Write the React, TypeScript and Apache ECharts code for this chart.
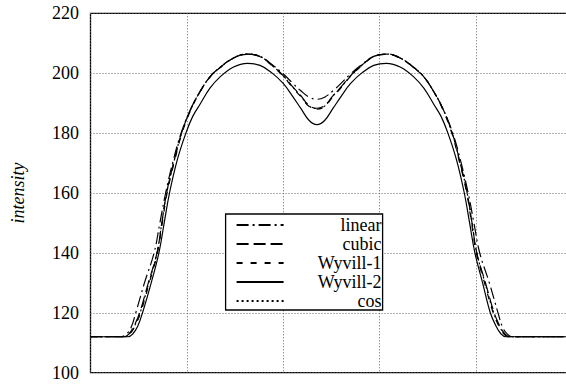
import React, { useEffect, useRef } from "react";
import * as echarts from "echarts";

const seriesNames = ["linear", "cubic", "Wyvill-1", "Wyvill-2", "cos"];

const linearData: [number, number][] = [
  [0, 112], [0.32, 112], [0.37, 112.8], [0.42, 115], [0.47, 120], [0.56, 130], [0.66, 140],
  [0.72, 150], [0.78, 160], [0.86, 171], [0.94, 180], [1.04, 188], [1.14, 194], [1.24, 198.8],
  [1.34, 201.8], [1.48, 205], [1.62, 206.4], [1.76, 205.6], [1.88, 203], [2.0, 199.8],
  [2.1, 196.6], [2.18, 194.2], [2.27, 192], [2.35, 191.3], [2.43, 192], [2.52, 194.2],
  [2.6, 196.6], [2.7, 199.8], [2.82, 203], [2.94, 205.6], [3.08, 206.4], [3.22, 205],
  [3.36, 201.8], [3.46, 198.8], [3.56, 194], [3.66, 188], [3.76, 180], [3.84, 171],
  [3.92, 160], [3.98, 150], [4.04, 140], [4.14, 130], [4.23, 120], [4.28, 115],
  [4.33, 112.8], [4.38, 112], [5, 112],
];

const cubicData: [number, number][] = [
  [0, 112], [0.35, 112], [0.4, 113], [0.45, 115.5], [0.51, 120], [0.6, 130], [0.69, 140],
  [0.74, 150], [0.79, 160], [0.87, 171], [0.945, 180], [1.04, 188], [1.14, 194], [1.24, 198.8],
  [1.34, 201.8], [1.48, 205], [1.62, 206.4], [1.76, 205.6], [1.88, 202.8], [2.0, 199.2],
  [2.1, 195.4], [2.18, 192.6], [2.27, 189.2], [2.35, 188.3], [2.43, 189.2], [2.52, 192.6],
  [2.6, 195.4], [2.7, 199.2], [2.82, 202.8], [2.94, 205.6], [3.08, 206.4], [3.22, 205],
  [3.36, 201.8], [3.46, 198.8], [3.56, 194], [3.66, 188], [3.755, 180], [3.83, 171],
  [3.91, 160], [3.96, 150], [4.01, 140], [4.1, 130], [4.19, 120], [4.25, 115.5],
  [4.3, 113], [4.35, 112], [5, 112],
];

const wyvill1Data: [number, number][] = [
  [0, 112], [0.36, 112], [0.41, 113], [0.46, 115.5], [0.52, 120], [0.61, 130], [0.695, 140],
  [0.745, 150], [0.795, 160], [0.875, 171], [0.95, 180], [1.045, 188], [1.14, 194], [1.24, 198.7],
  [1.34, 201.7], [1.48, 204.9], [1.62, 206.3], [1.76, 205.5], [1.88, 202.6], [2.0, 199],
  [2.1, 195.1], [2.18, 192.3], [2.27, 188.9], [2.35, 188], [2.43, 188.9], [2.52, 192.3],
  [2.6, 195.1], [2.7, 199], [2.82, 202.6], [2.94, 205.5], [3.08, 206.3], [3.22, 204.9],
  [3.36, 201.7], [3.46, 198.7], [3.56, 194], [3.655, 188], [3.75, 180], [3.825, 171],
  [3.905, 160], [3.955, 150], [4.005, 140], [4.09, 130], [4.18, 120], [4.24, 115.5],
  [4.29, 113], [4.34, 112], [5, 112],
];

const wyvill2Data: [number, number][] = [
  [0, 112], [0.39, 112], [0.44, 113], [0.49, 115.5], [0.54, 120], [0.63, 130], [0.71, 140],
  [0.765, 150], [0.82, 160], [0.9, 171], [0.99, 180], [1.06, 185.5], [1.14, 189.8], [1.24, 195],
  [1.34, 198.6], [1.48, 202], [1.63, 203.3], [1.76, 202.6], [1.88, 200.2], [2.0, 196.6],
  [2.1, 192.2], [2.18, 188.4], [2.27, 184.2], [2.35, 182.8], [2.43, 184.2], [2.52, 188.4],
  [2.6, 192.2], [2.7, 196.6], [2.82, 200.2], [2.94, 202.6], [3.07, 203.3], [3.22, 202],
  [3.36, 198.6], [3.46, 195], [3.56, 189.8], [3.64, 185.5], [3.71, 180], [3.8, 171],
  [3.88, 160], [3.935, 150], [3.99, 140], [4.07, 130], [4.15, 120], [4.21, 115.5],
  [4.26, 113], [4.31, 112], [5, 112],
];

const cosData: [number, number][] = [
  [0, 112], [0.355, 112], [0.405, 113], [0.455, 115.5], [0.515, 120], [0.605, 130], [0.69, 140],
  [0.74, 150], [0.79, 160], [0.87, 171], [0.945, 180], [1.04, 188], [1.14, 194], [1.24, 198.8],
  [1.34, 201.8], [1.48, 205], [1.62, 206.4], [1.76, 205.6], [1.88, 202.7], [2.0, 199.1],
  [2.1, 195.3], [2.18, 192.5], [2.27, 189], [2.35, 188.2], [2.43, 189], [2.52, 192.5],
  [2.6, 195.3], [2.7, 199.1], [2.82, 202.7], [2.94, 205.6], [3.08, 206.4], [3.22, 205],
  [3.36, 201.8], [3.46, 198.8], [3.56, 194], [3.66, 188], [3.755, 180], [3.83, 171],
  [3.91, 160], [3.96, 150], [4.01, 140], [4.095, 130], [4.185, 120], [4.245, 115.5],
  [4.295, 113], [4.345, 112], [5, 112],
];

const yTicks = { min: 100, max: 220, interval: 20 };
const xTicks = { min: 0, max: 5, interval: 1 };

const allData = [linearData, cubicData, wyvill1Data, wyvill2Data, cosData];
const dashTypes: any[] = [[12, 4, 2, 4], [12, 5], [6, 8], "solid", [2, 3]];

export default function App() {
  const ref = useRef<HTMLDivElement>(null);
  useEffect(() => {
    if (!ref.current) return;
    const chart = echarts.init(ref.current, null, { renderer: "svg" });
    const font = "Liberation Serif";
    chart.setOption({
      animation: false,
      backgroundColor: "#fff",
      grid: {
        left: 90.5,
        top: 13.3,
        width: 481.7,
        height: 359.4,
        show: true,
        borderColor: "#000",
        borderWidth: 1.3,
        backgroundColor: "transparent",
      },
      xAxis: {
        type: "value",
        min: xTicks.min,
        max: xTicks.max,
        interval: xTicks.interval,
        axisLine: { show: false },
        axisTick: { show: false },
        axisLabel: { show: false },
        splitLine: { show: true, lineStyle: { color: "#666", type: [1, 2], width: 1 } },
      },
      yAxis: {
        type: "value",
        min: yTicks.min,
        max: yTicks.max,
        interval: yTicks.interval,
        name: "intensity",
        nameLocation: "middle",
        nameGap: 64,
        nameTextStyle: { fontFamily: font, fontSize: 18, fontStyle: "italic", color: "#000" },
        axisLine: { show: false },
        axisTick: { show: false },
        axisLabel: { fontFamily: font, fontSize: 18, color: "#000", margin: 11.5 },
        splitLine: { show: true, lineStyle: { color: "#666", type: [1, 2], width: 1 } },
      },
      legend: {
        orient: "vertical",
        left: 225.6,
        top: 214,
        data: seriesNames,
        backgroundColor: "#fff",
        borderColor: "#000",
        borderWidth: 1.3,
        borderRadius: 0,
        padding: [2, 1, 0, 10],
        itemWidth: 47,
        itemHeight: 14,
        itemGap: 1,
        selectedMode: false,
        itemStyle: { opacity: 0 },
        formatter: (name: string) => `{a|${name}}`,
        textStyle: {
          fontFamily: font,
          fontSize: 18,
          color: "#000",
          rich: { a: { width: 93, align: "right", fontFamily: font, fontSize: 18, lineHeight: 17, color: "#000" } },
        },
      },
      series: seriesNames.map((name, i) => ({
        name,
        type: "line",
        data: allData[i],
        smooth: 0.4,
        symbol: "none",
        z: 3,
        lineStyle: { color: "#000", width: 1.2, type: dashTypes[i] },
        itemStyle: { color: "#000" },
      })),
    });
    return () => chart.dispose();
  }, []);
  return (
    <div style={{ position: "fixed", left: 0, top: 0, width: 566, height: 385, overflow: "hidden", background: "#fff" }}>
      <div ref={ref} style={{ width: 580, height: 385 }} />
    </div>
  );
}
